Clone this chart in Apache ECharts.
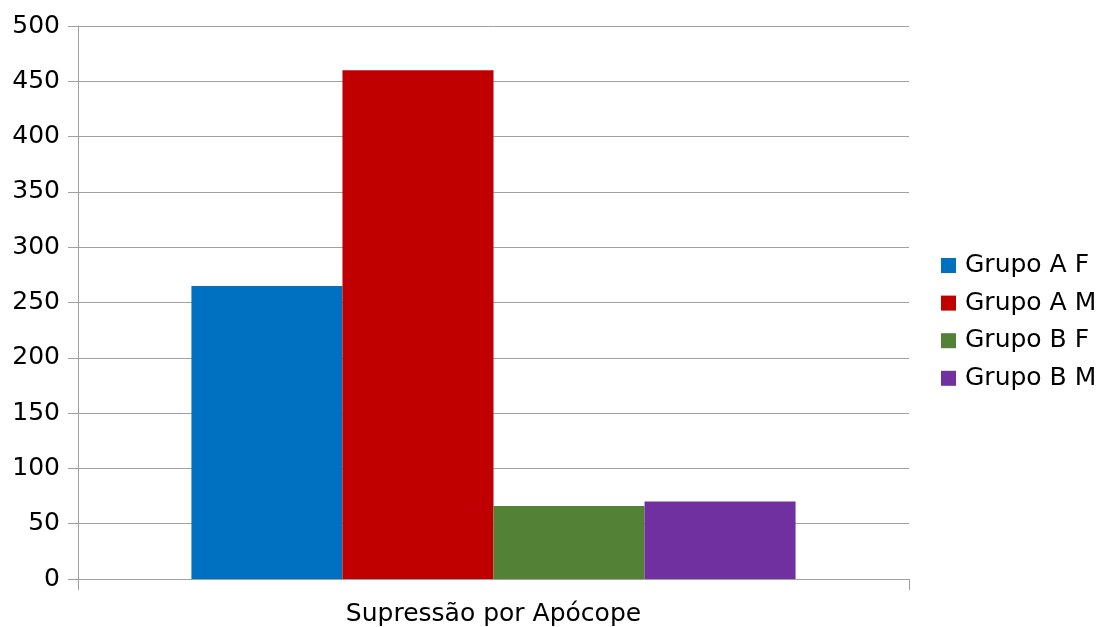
<!DOCTYPE html>
<html>
<head>
<meta charset="utf-8">
<script src="https://cdn.jsdelivr.net/npm/echarts@6/dist/echarts.min.js"></script>
<style>
  html, body { margin: 0; padding: 0; background: #fff; }
  #main { width: 1101px; height: 627px; }
</style>
</head>
<body>
<div id="main"></div>
<script>
    const categories = ['Supressão por Apócope'];
    const seriesNames = ['Grupo A F', 'Grupo A M', 'Grupo B F', 'Grupo B M'];
    const grupoAF = [265];
    const grupoAM = [460];
    const grupoBF = [66];
    const grupoBM = [70];
    const colors = ['#0070c0', '#c00000', '#538135', '#7030a0'];

    const seriesValues = [grupoAF, grupoAM, grupoBF, grupoBM];
    const font = 'DejaVu Sans';
    const gridColor = '#a0a0a0';

    var myChart = echarts.init(document.getElementById('main'));
    var option = {
        animation: false,
        color: colors,
        textStyle: { fontFamily: font },
        grid: {
            left: 78,
            right: 192,
            top: 26,
            bottom: 47,
            containLabel: false
        },
        legend: {
            orient: 'vertical',
            left: 941,
            top: 253,
            padding: 0,
            itemWidth: 15,
            itemHeight: 15,
            itemGap: 12.6,
            icon: 'rect',
            textStyle: {
                fontFamily: font,
                fontSize: 25,
                color: '#000',
                padding: [0, 0, 0, 4]
            },
            data: seriesNames
        },
        xAxis: {
            type: 'category',
            data: categories,
            axisLine: { lineStyle: { color: gridColor, width: 1 } },
            axisTick: { show: true, length: 11, lineStyle: { color: gridColor } },
            axisLabel: {
                fontFamily: font,
                fontSize: 25,
                color: '#000',
                margin: 23
            }
        },
        yAxis: {
            type: 'value',
            min: 0,
            max: 500,
            interval: 50,
            axisLine: { show: true, lineStyle: { color: gridColor, width: 1 } },
            axisTick: { show: true, length: 10, lineStyle: { color: gridColor } },
            axisLabel: {
                fontFamily: font,
                fontSize: 25,
                color: '#000',
                margin: 18
            },
            splitLine: { lineStyle: { color: gridColor, width: 1 } }
        },
        series: seriesNames.map(function (name, i) {
            return {
                name: name,
                type: 'bar',
                data: seriesValues[i],
                barGap: '0%',
                barCategoryGap: '27.3%',
                itemStyle: { color: colors[i], borderWidth: 0 }
            };
        })
    };
    myChart.setOption(option);
</script>
</body>
</html>
